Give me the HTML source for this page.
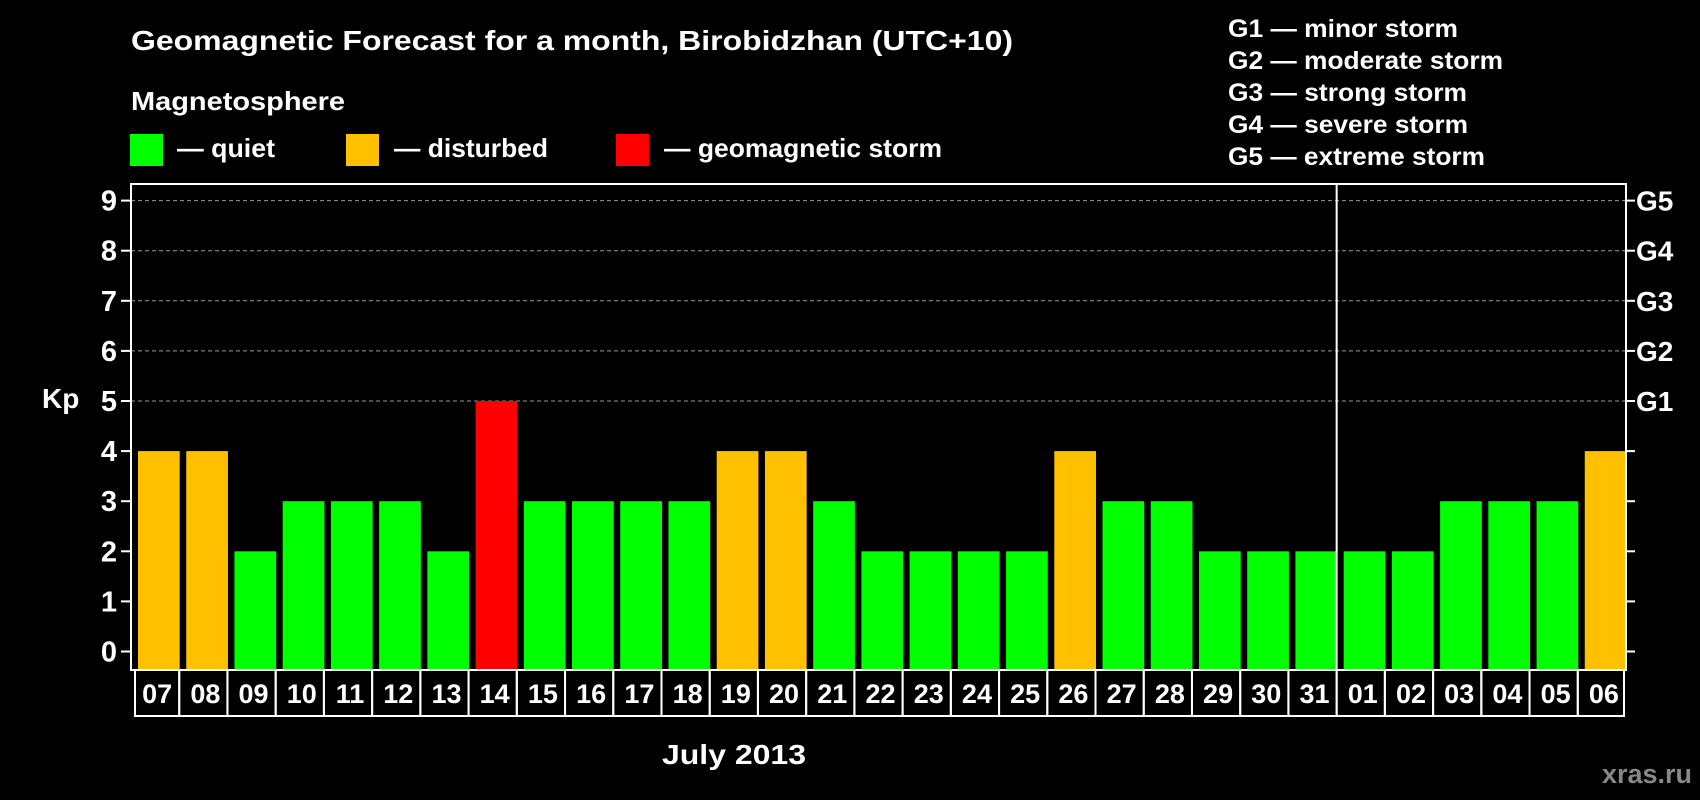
<!DOCTYPE html>
<html><head><meta charset="utf-8"><style>
html,body{margin:0;padding:0;background:#000;}
svg{display:block;font-family:"Liberation Sans",sans-serif;font-weight:bold;}
</style></head><body>
<svg id="chart" width="1700" height="800" viewBox="0 0 1700 800">
<rect width="1700" height="800" fill="#000"/>
<text x="131" y="50" fill="#fff" font-size="28" textLength="882" lengthAdjust="spacingAndGlyphs">Geomagnetic Forecast for a month, Birobidzhan (UTC+10)</text>
<text x="131" y="110" fill="#fff" font-size="26" textLength="214" lengthAdjust="spacingAndGlyphs">Magnetosphere</text>
<g><rect x="130" y="134" width="33" height="32" fill="#00ff00"/><text x="177" y="157" fill="#fff" font-size="26" textLength="98" lengthAdjust="spacingAndGlyphs">— quiet</text></g>
<g><rect x="346" y="134" width="33" height="32" fill="#ffc000"/><text x="394" y="157" fill="#fff" font-size="26" textLength="154" lengthAdjust="spacingAndGlyphs">— disturbed</text></g>
<g><rect x="616" y="134" width="33" height="32" fill="#ff0000"/><text x="664" y="157" fill="#fff" font-size="26" textLength="278" lengthAdjust="spacingAndGlyphs">— geomagnetic storm</text></g>
<g fill="#fff" font-size="25">
<text x="1228" y="37" textLength="230" lengthAdjust="spacingAndGlyphs">G1 — minor storm</text>
<text x="1228" y="69" textLength="275" lengthAdjust="spacingAndGlyphs">G2 — moderate storm</text>
<text x="1228" y="101" textLength="239" lengthAdjust="spacingAndGlyphs">G3 — strong storm</text>
<text x="1228" y="133" textLength="240" lengthAdjust="spacingAndGlyphs">G4 — severe storm</text>
<text x="1228" y="165" textLength="257" lengthAdjust="spacingAndGlyphs">G5 — extreme storm</text>
</g>
<text x="42" y="408" fill="#fff" font-size="28">Kp</text>
<text x="662" y="764" fill="#fff" font-size="28" textLength="144" lengthAdjust="spacingAndGlyphs">July 2013</text>
<text x="1692" y="783" fill="#888" font-size="27" text-anchor="end">xras.ru</text>
<g id="grid"></g><g id="bars"></g><g id="axes"></g>
</svg>
<script>
const days=["07","08","09","10","11","12","13","14","15","16","17","18","19","20","21","22","23","24","25","26","27","28","29","30","31","01","02","03","04","05","06"];
const kp=[4,4,2,3,3,3,2,5,3,3,3,3,4,4,3,2,2,2,2,4,3,3,2,2,2,2,2,3,3,3,4];
const yTicks=[0,1,2,3,4,5,6,7,8,9];
const gLabels=["","","","","","G1","G2","G3","G4","G5"];
const monthBreak=25;
const NS="http://www.w3.org/2000/svg";
const L=131,R=1626,T=184,B=670,Y0=651.5,UNIT=50.1;
const pitch=(R-L)/days.length;
const y=v=>Y0-v*UNIT;
const x=i=>L+i*pitch;
const col=v=>v>=5?"#ff0000":(v>=4?"#ffc000":"#00ff00");
function mk(tag,attrs,parent){const e=document.createElementNS(NS,tag);for(const k in attrs)e.setAttribute(k,attrs[k]);parent.appendChild(e);return e;}
const grid=document.getElementById('grid'),bars=document.getElementById('bars'),axes=document.getElementById('axes');
yTicks.forEach(v=>{
 if(v>=5){const g=mk('line',{x1:L,x2:R,y1:y(v),y2:y(v),stroke:'#999','stroke-width':1,'stroke-dasharray':'4 3'},grid);
 
 }
 const t1=mk('line',{x1:L-10,x2:L,y1:y(v),y2:y(v),stroke:'#fff','stroke-width':2},axes);
 
 
 const t2=mk('line',{x1:R,x2:R+9,y1:y(v),y2:y(v),stroke:'#fff','stroke-width':2},axes);
 
 
 const lb=mk('text',{x:117,y:y(v)+10,fill:'#fff','font-size':29,'text-anchor':'end'},axes);lb.textContent=v;
 
 
 if(gLabels[v]){const g=mk('text',{x:1636,y:y(v)+10,fill:'#fff','font-size':28},axes);g.textContent=gLabels[v];
 
 }
});
kp.forEach((v,i)=>{
 const b=mk('rect',{x:x(i)+7,y:y(v),width:pitch-6.5,height:B-y(v),fill:col(v)},bars);
 
 
 const bx=mk('rect',{x:x(i)+(i==0?4:0),y:B,width:pitch-(i==0?4:0)-(i==days.length-1?2:0),height:46,fill:'none',stroke:'#fff','stroke-width':2},axes);
 
 
 const t=mk('text',{x:x(i)+pitch/2+2,y:703,fill:'#fff','font-size':27,'text-anchor':'middle'},axes);t.textContent=days[i];
 
 
});
const fr=mk('rect',{x:L,y:T,width:R-L,height:B-T,fill:'none',stroke:'#fff','stroke-width':2},axes);


const dv=mk('line',{x1:x(monthBreak),x2:x(monthBreak),y1:T,y2:B,stroke:'#fff','stroke-width':2},axes);


</script>
</body></html>
